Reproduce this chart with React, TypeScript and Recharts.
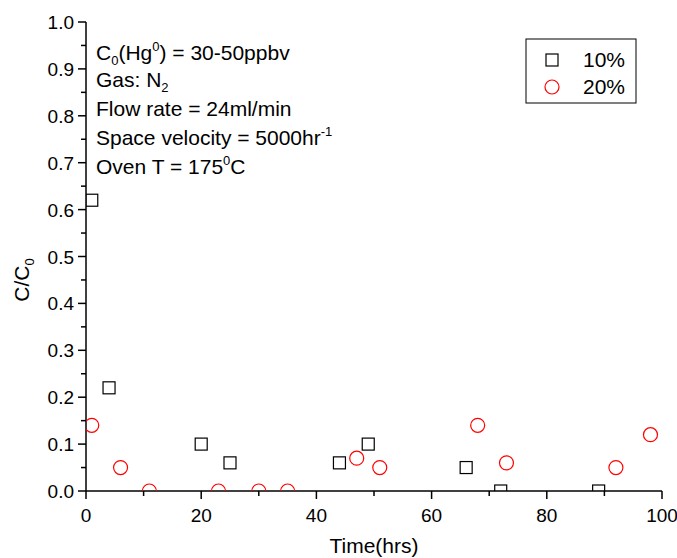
import React from "react";
import { ScatterChart, Scatter, XAxis, YAxis, Customized } from "recharts";

// 10% loading
const time10 = [1, 4, 20, 25, 44, 49, 66, 72, 89];
const ratio10 = [0.62, 0.22, 0.1, 0.06, 0.06, 0.1, 0.05, 0, 0];
// 20% loading
const time20 = [1, 6, 11, 23, 30, 35, 47, 51, 68, 73, 92, 98];
const ratio20 = [0.14, 0.05, 0, 0, 0, 0, 0.07, 0.05, 0.14, 0.06, 0.05, 0.12];

const seriesNames = ["10%", "20%"];

const xTicks = [0, 10, 20, 30, 40, 50, 60, 70, 80, 90, 100];
const yTicks = [0, 0.05, 0.1, 0.15, 0.2, 0.25, 0.3, 0.35, 0.4, 0.45, 0.5, 0.55, 0.6, 0.65, 0.7, 0.75, 0.8, 0.85, 0.9, 0.95, 1.0];

const data10 = time10.map((t, i) => ({ t, c: ratio10[i] }));
const data20 = time20.map((t, i) => ({ t, c: ratio20[i] }));

const FONT = "'Liberation Sans', Arial, sans-serif";

const isMajorX = (v: number) => Math.round(v) % 20 === 0;
const isMajorY = (v: number) => Math.round(v * 100) % 10 === 0;

const BottomTick = (p: any) => {
  const major = isMajorX(p.payload.value);
  return (
    <g>
      <line x1={p.x} x2={p.x} y1={p.y} y2={p.y + (major ? 8 : 5)} stroke="#000" strokeWidth={1.5} />
      {major && (
        <text x={p.x} y={p.y + 31} textAnchor="middle" fontSize={19} fontFamily={FONT} fill="#000">
          {p.payload.value}
        </text>
      )}
    </g>
  );
};

const TopTick = (p: any) => {
  const major = isMajorX(p.payload.value);
  return <line x1={p.x} x2={p.x} y1={p.y} y2={p.y + (major ? 6 : 4)} stroke="#000" strokeWidth={1.5} />;
};

const LeftTick = (p: any) => {
  const major = isMajorY(p.payload.value);
  return (
    <g>
      <line x1={p.x} x2={p.x - (major ? 8 : 5)} y1={p.y} y2={p.y} stroke="#000" strokeWidth={1.5} />
      {major && (
        <text x={p.x - 12} y={p.y + 7} textAnchor="end" fontSize={19} fontFamily={FONT} fill="#000">
          {p.payload.value.toFixed(1)}
        </text>
      )}
    </g>
  );
};

const RightTick = (p: any) => {
  const major = isMajorY(p.payload.value);
  return <line x1={p.x} x2={p.x - (major ? 6 : 4)} y1={p.y} y2={p.y} stroke="#000" strokeWidth={1.5} />;
};

const SquareMark = (p: any) => (
  <rect x={p.cx - 6} y={p.cy - 6} width={12} height={12} fill="none" stroke="#000" strokeWidth={1.2} />
);
const CircleMark = (p: any) => (
  <circle cx={p.cx} cy={p.cy} r={7} fill="none" stroke="#ff0000" strokeWidth={1.2} />
);

const Notes = () => (
  <g fontFamily={FONT} fontSize={21} fill="#000">
    <text x={96} y={60}>
      C<tspan fontSize={13} dy={5}>0</tspan>
      <tspan dy={-5}>(Hg</tspan>
      <tspan fontSize={13} dy={-9}>0</tspan>
      <tspan dy={9}>) = 30-50ppbv</tspan>
    </text>
    <text x={96} y={87}>
      Gas: N<tspan fontSize={13} dy={5}>2</tspan>
    </text>
    <text x={96} y={116}>Flow rate = 24ml/min</text>
    <text x={96} y={145}>
      Space velocity = 5000hr<tspan fontSize={13} dy={-9}>-1</tspan>
    </text>
    <text x={96} y={174}>
      Oven T = 175<tspan fontSize={13} dy={-9}>0</tspan>
      <tspan dy={9}>C</tspan>
    </text>
    <text x={374} y={553} textAnchor="middle">Time(hrs)</text>
    <text transform="translate(29, 280) rotate(-90)" textAnchor="middle">
      C/C<tspan fontSize={13} dy={5}>0</tspan>
    </text>
    {/* legend */}
    <rect x={526} y={39} width={110} height={64} fill="#fff" stroke="#000" strokeWidth={1} />
    <rect x={546} y={54} width={12} height={12} fill="none" stroke="#000" strokeWidth={1.2} />
    <text x={583} y={67}>{seriesNames[0]}</text>
    <circle cx={552} cy={87} r={7} fill="none" stroke="#ff0000" strokeWidth={1.2} />
    <text x={583} y={94}>{seriesNames[1]}</text>
  </g>
);

export default function App() {
  return (
    <div style={{ position: "absolute", left: 0, top: 0, background: "#fff" }}>
      <ScatterChart width={677} height={558} margin={{ top: 22, right: 15, left: 0, bottom: 0 }}>
        <XAxis
          xAxisId="bottom"
          dataKey="t"
          type="number"
          domain={[0, 100]}
          ticks={xTicks}
          interval={0}
          allowDataOverflow
          height={67}
          tickSize={0}
          tickMargin={0}
          tick={BottomTick}
          axisLine={{ stroke: "#000", strokeWidth: 1.5 }}
        />
        <XAxis
          xAxisId="top"
          orientation="top"
          type="number"
          domain={[0, 100]}
          ticks={xTicks}
          interval={0}
          height={0}
          tickSize={0}
          tickMargin={0}
          tick={TopTick}
          axisLine={{ stroke: "#000", strokeWidth: 1.5 }}
        />
        <YAxis
          yAxisId="left"
          dataKey="c"
          type="number"
          domain={[0, 1]}
          ticks={yTicks}
          interval={0}
          allowDataOverflow
          width={86}
          tickSize={0}
          tickMargin={0}
          tick={LeftTick}
          axisLine={{ stroke: "#000", strokeWidth: 1.5 }}
        />
        <YAxis
          yAxisId="right"
          orientation="right"
          type="number"
          domain={[0, 1]}
          ticks={yTicks}
          interval={0}
          width={0}
          tickSize={0}
          tickMargin={0}
          tick={RightTick}
          axisLine={{ stroke: "#000", strokeWidth: 1.5 }}
        />
        <Scatter name={seriesNames[0]} data={data10} xAxisId="bottom" yAxisId="left" shape={SquareMark} isAnimationActive={false} />
        <Scatter name={seriesNames[1]} data={data20} xAxisId="bottom" yAxisId="left" shape={CircleMark} isAnimationActive={false} />
        <Customized component={Notes} />
      </ScatterChart>
    </div>
  );
}
